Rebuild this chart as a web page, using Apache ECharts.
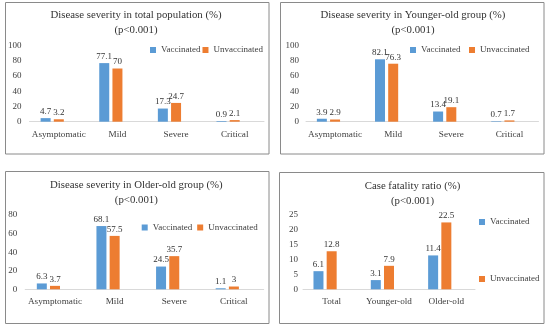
<!DOCTYPE html>
<html><head><meta charset="utf-8">
<script src="https://cdn.jsdelivr.net/npm/echarts@6/dist/echarts.min.js"></script>
<style>html,body{margin:0;padding:0;background:#fff}#c{width:550px;height:336px}</style>
</head><body><div id="c"></div>
<script>
var severityCategories = ['Asymptomatic', 'Mild', 'Severe', 'Critical'];
var totalVaccinated = [4.7, 77.1, 17.3, 0.9];
var totalUnvaccinated = [3.2, 70, 24.7, 2.1];
var youngerVaccinated = [3.9, 82.1, 13.4, 0.7];
var youngerUnvaccinated = [2.9, 76.3, 19.1, 1.7];
var olderVaccinated = [6.3, 68.1, 24.5, 1.1];
var olderUnvaccinated = [3.7, 57.5, 35.7, 3];
var fatalityCategories = ['Total', 'Younger-old', 'Older-old'];
var fatalityVaccinated = [6.1, 3.1, 11.4];
var fatalityUnvaccinated = [12.8, 7.9, 22.5];
var seriesNames = ['Vaccinated', 'Unvaccinated'];
var titles = [
  'Disease severity in total population (%)\n(p<0.001)',
  'Disease severity in Younger-old group (%)\n(p<0.001)',
  'Disease severity in Older-old group (%)\n(p<0.001)',
  'Case fatality ratio (%)\n(p<0.001)'
];
var yMax = [100, 100, 80, 25];
var yStep = [20, 20, 20, 5];

var FONT = '"Liberation Serif", "DejaVu Serif", serif';
var BLUE = '#5B9BD5', ORANGE = '#ED7D31';

var panels = [
  {cats: severityCategories, v: totalVaccinated, u: totalUnvaccinated,
   grid: {left: 29.5, top: 45.7, width: 234.5, height: 76}, tx: 136, ty: 7.8, ym: 8,
   legend: {left: 150, top: 45.5, itemGap: 2, orient: 'horizontal'}},
  {cats: severityCategories, v: youngerVaccinated, u: youngerUnvaccinated,
   grid: {left: 306, top: 45.7, width: 232.5, height: 76}, tx: 413, ty: 7.8, ym: 7,
   legend: {left: 410, top: 45.5, itemGap: 8.5, orient: 'horizontal'}},
  {cats: severityCategories, v: olderVaccinated, u: olderUnvaccinated,
   grid: {left: 25.2, top: 215, width: 238.5, height: 74.3}, tx: 136.3, ty: 177.5, ym: 8,
   legend: {left: 141.7, top: 223, itemGap: 5, orient: 'horizontal'}},
  {cats: fatalityCategories, v: fatalityVaccinated, u: fatalityUnvaccinated,
   grid: {left: 303, top: 215, width: 172, height: 74.3}, tx: 412.5, ty: 179, ym: 5,
   legend: {left: 479, top: 217.5, itemGap: 48, orient: 'vertical'}}
];

var option = {
  backgroundColor: '#fff',
  animation: false,
  title: [], grid: [], xAxis: [], yAxis: [], series: [], legend: [],
  graphic: [
    {type: 'rect', shape: {x: 5.5, y: 2.5, width: 263.5, height: 151.5}, style: {fill: 'none', stroke: '#8a8a8a', lineWidth: 1}},
    {type: 'rect', shape: {x: 280.5, y: 2.5, width: 263.5, height: 151.5}, style: {fill: 'none', stroke: '#8a8a8a', lineWidth: 1}},
    {type: 'rect', shape: {x: 5.5, y: 171.5, width: 263.5, height: 152}, style: {fill: 'none', stroke: '#8a8a8a', lineWidth: 1}},
    {type: 'rect', shape: {x: 279.5, y: 172.5, width: 264.5, height: 151}, style: {fill: 'none', stroke: '#8a8a8a', lineWidth: 1}}
  ]
};

panels.forEach(function (p, i) {
  option.title.push({
    text: titles[i], left: p.tx, top: p.ty, textAlign: 'center', padding: 0,
    textStyle: {fontFamily: FONT, fontSize: 10.8, fontWeight: 'normal', color: '#333333', lineHeight: 14.8}
  });
  var g = p.grid; g.containLabel = false;
  option.grid.push(g);
  option.xAxis.push({
    type: 'category', gridIndex: i, data: p.cats,
    axisLine: {show: true, lineStyle: {color: '#d9d9d9', width: 1}},
    axisTick: {show: false},
    axisLabel: {fontFamily: FONT, fontSize: 9.2, color: '#404040', margin: 8, interval: 0}
  });
  option.yAxis.push({
    type: 'value', gridIndex: i, min: 0, max: yMax[i], interval: yStep[i],
    axisLine: {show: false}, axisTick: {show: false}, splitLine: {show: false},
    axisLabel: {fontFamily: FONT, fontSize: 9, color: '#404040', margin: p.ym}
  });
  var lbl = {show: true, position: 'top', distance: 2, fontFamily: FONT, fontSize: 9, color: '#333333'};
  option.series.push({
    name: seriesNames[0], type: 'bar', xAxisIndex: i, yAxisIndex: i, data: p.v,
    barWidth: 10, barGap: '32%', itemStyle: {color: BLUE}, label: lbl
  });
  option.series.push({
    name: seriesNames[1], type: 'bar', xAxisIndex: i, yAxisIndex: i, data: p.u,
    barWidth: 10, barGap: '32%', itemStyle: {color: ORANGE}, label: lbl
  });
  option.series.push({
    name: 'slot' + i, type: 'bar', xAxisIndex: i, yAxisIndex: i, data: [],
    barWidth: 10, barGap: '32%', silent: true
  });
  var L = p.legend;
  option.legend.push({
    data: seriesNames, left: L.left, top: L.top, orient: L.orient, itemGap: L.itemGap,
    itemWidth: 6, itemHeight: 6, icon: 'rect', padding: 0, selectedMode: false,
    textStyle: {fontFamily: FONT, fontSize: 9, color: '#404040'}
  });
});

var chart = echarts.init(document.getElementById('c'), null, {renderer: 'canvas'});
chart.setOption(option);
</script>
</body></html>
